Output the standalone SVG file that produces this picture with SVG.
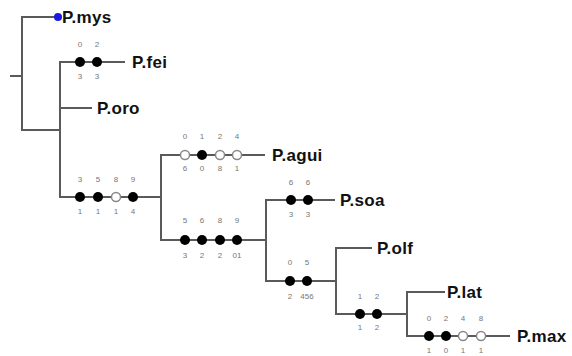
<svg xmlns="http://www.w3.org/2000/svg" width="572" height="356" viewBox="0 0 572 356">
  <style>
    .br { fill: none; stroke: #5a5a5a; stroke-width: 2; }
    .tx { font-family: "Liberation Sans", Arial, sans-serif; font-weight: bold; font-size: 17px; letter-spacing: 0.3px; fill: #111; }
    .nm { font-family: "Liberation Sans", Arial, sans-serif; font-size: 8px; fill: #777; text-anchor: middle; }
    .f { fill: #000; }
    .o { fill: #fff; stroke: #888; stroke-width: 1.5; }
  </style>
  <rect width="572" height="356" fill="#fff"/>

  <!-- branches -->
  <g id="connectors">
    <path class="br" d="M10,76 H22"/>
    <path class="br" d="M57,17 H22 V130 H60"/>
    <path class="br" d="M125,62 H60 V197 H161"/>
    <path class="br" d="M60,108 H92"/>
    <path class="br" d="M265,155 H161 V240 H266"/>
    <path class="br" d="M335,200 H266 V281 H336"/>
    <path class="br" d="M372,248 H336 V314 H407"/>
    <path class="br" d="M445,292 H407 V336 H510"/>
  </g>

  <g id="P.mys">
    <circle cx="58" cy="17" r="4" fill="#1a1adf"/>
    <text class="tx" x="62" y="23">P.mys</text>
  </g>

  <g id="P.fei">
    <circle class="f" cx="80" cy="62" r="5"/>
    <circle class="f" cx="97" cy="62" r="5"/>
    <text class="nm" x="80" y="47">0</text><text class="nm" x="97" y="47">2</text>
    <text class="nm" x="80" y="79">3</text><text class="nm" x="97" y="79">3</text>
    <text class="tx" x="132" y="68">P.fei</text>
  </g>

  <g id="P.oro">
    <text class="tx" x="97" y="114">P.oro</text>
  </g>

  <g id="clade1">
    <circle class="f" cx="80" cy="197" r="5"/>
    <circle class="f" cx="98" cy="197" r="5"/>
    <circle class="o" cx="116" cy="197" r="4.5"/>
    <circle class="f" cx="133" cy="197" r="5"/>
    <text class="nm" x="80" y="182">3</text><text class="nm" x="98" y="182">5</text>
    <text class="nm" x="116" y="182">8</text><text class="nm" x="133" y="182">9</text>
    <text class="nm" x="80" y="214">1</text><text class="nm" x="98" y="214">1</text>
    <text class="nm" x="116" y="214">1</text><text class="nm" x="133" y="214">4</text>
  </g>

  <g id="P.agui">
    <circle class="o" cx="185" cy="155" r="4.5"/>
    <circle class="f" cx="202" cy="155" r="5"/>
    <circle class="o" cx="220" cy="155" r="4.5"/>
    <circle class="o" cx="237" cy="155" r="4.5"/>
    <text class="nm" x="185" y="139">0</text><text class="nm" x="202" y="139">1</text>
    <text class="nm" x="220" y="139">2</text><text class="nm" x="237" y="139">4</text>
    <text class="nm" x="185" y="171">6</text><text class="nm" x="202" y="171">0</text>
    <text class="nm" x="220" y="171">8</text><text class="nm" x="237" y="171">1</text>
    <text class="tx" x="272" y="161">P.agui</text>
  </g>

  <g id="clade2">
    <circle class="f" cx="185" cy="240" r="5"/>
    <circle class="f" cx="202" cy="240" r="5"/>
    <circle class="f" cx="220" cy="240" r="5"/>
    <circle class="f" cx="237" cy="240" r="5"/>
    <text class="nm" x="185" y="223">5</text><text class="nm" x="202" y="223">6</text>
    <text class="nm" x="220" y="223">8</text><text class="nm" x="237" y="223">9</text>
    <text class="nm" x="185" y="258">3</text><text class="nm" x="202" y="258">2</text>
    <text class="nm" x="220" y="258">2</text><text class="nm" x="237" y="258">01</text>
  </g>

  <g id="P.soa">
    <circle class="f" cx="291" cy="200" r="5"/>
    <circle class="f" cx="308" cy="200" r="5"/>
    <text class="nm" x="291" y="185">6</text><text class="nm" x="308" y="185">6</text>
    <text class="nm" x="291" y="217">3</text><text class="nm" x="308" y="217">3</text>
    <text class="tx" x="340" y="206">P.soa</text>
  </g>

  <g id="clade3">
    <circle class="f" cx="290" cy="281" r="5"/>
    <circle class="f" cx="307" cy="281" r="5"/>
    <text class="nm" x="290" y="265">0</text><text class="nm" x="307" y="265">5</text>
    <text class="nm" x="290" y="299">2</text><text class="nm" x="307" y="299">456</text>
  </g>

  <g id="P.olf">
    <text class="tx" x="377" y="254">P.olf</text>
  </g>

  <g id="clade4">
    <circle class="f" cx="360" cy="314" r="5"/>
    <circle class="f" cx="377" cy="314" r="5"/>
    <text class="nm" x="360" y="299">1</text><text class="nm" x="377" y="299">2</text>
    <text class="nm" x="360" y="330">1</text><text class="nm" x="377" y="330">2</text>
  </g>

  <g id="P.lat">
    <text class="tx" x="447" y="298">P.lat</text>
  </g>

  <g id="P.max">
    <circle class="f" cx="429" cy="336" r="5"/>
    <circle class="f" cx="446" cy="336" r="5"/>
    <circle class="o" cx="463" cy="336" r="4.5"/>
    <circle class="o" cx="481" cy="336" r="4.5"/>
    <text class="nm" x="429" y="321">0</text><text class="nm" x="446" y="321">2</text>
    <text class="nm" x="463" y="321">4</text><text class="nm" x="481" y="321">8</text>
    <text class="nm" x="429" y="353">1</text><text class="nm" x="446" y="353">0</text>
    <text class="nm" x="463" y="353">1</text><text class="nm" x="481" y="353">1</text>
    <text class="tx" x="517" y="342">P.max</text>
  </g>
</svg>
